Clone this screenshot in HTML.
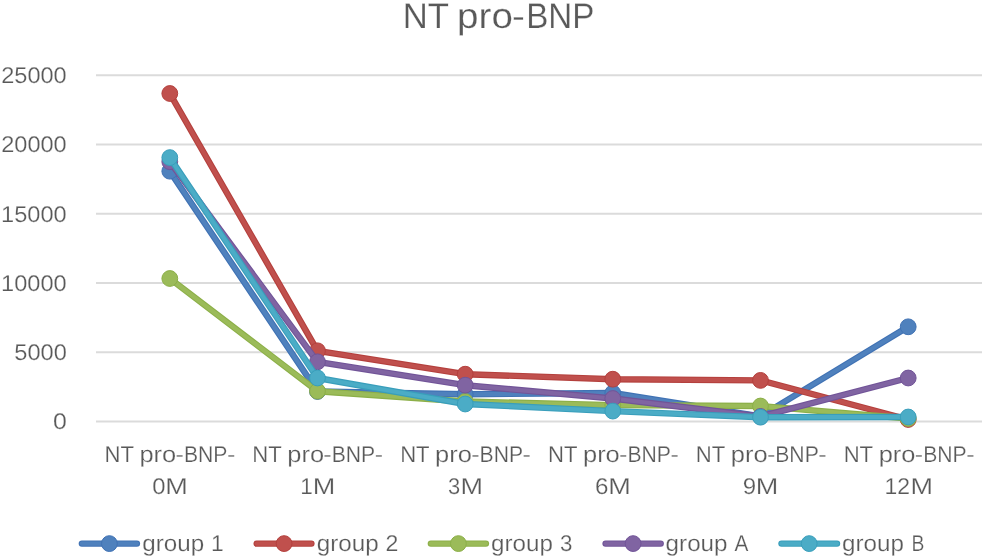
<!DOCTYPE html>
<html><head><meta charset="utf-8"><title>NT pro-BNP</title>
<style>html,body{margin:0;padding:0;background:#fff}svg{display:block}text{font-family:"Liberation Sans",sans-serif;fill:#595959;text-rendering:geometricPrecision;stroke:#fff;stroke-width:0.22px}</style></head><body>
<svg width="985" height="559" viewBox="0 0 985 559">
<rect width="985" height="559" fill="#fff"/>
<line x1="96.0" x2="982.0" y1="421.40" y2="421.40" stroke="#DBDBDB" stroke-width="2"/>
<line x1="96.0" x2="982.0" y1="352.18" y2="352.18" stroke="#DBDBDB" stroke-width="2"/>
<line x1="96.0" x2="982.0" y1="282.96" y2="282.96" stroke="#DBDBDB" stroke-width="2"/>
<line x1="96.0" x2="982.0" y1="213.74" y2="213.74" stroke="#DBDBDB" stroke-width="2"/>
<line x1="96.0" x2="982.0" y1="144.52" y2="144.52" stroke="#DBDBDB" stroke-width="2"/>
<line x1="96.0" x2="982.0" y1="75.30" y2="75.30" stroke="#DBDBDB" stroke-width="2"/>
<text font-size="35.6"><tspan x="402.79" y="28" textLength="45.67" lengthAdjust="spacingAndGlyphs">NT</tspan> <tspan x="457.13" y="28" textLength="55.81" lengthAdjust="spacingAndGlyphs">pro</tspan><tspan x="511.98" y="28" textLength="12.86" lengthAdjust="spacingAndGlyphs">-</tspan><tspan x="526.18" y="28" textLength="68.17" lengthAdjust="spacingAndGlyphs">BNP</tspan></text>
<text font-size="22.8"><tspan x="52.99" y="429" textLength="13.85" lengthAdjust="spacingAndGlyphs">0</tspan></text>
<text font-size="22.8"><tspan x="14.27" y="360" textLength="52.55" lengthAdjust="spacingAndGlyphs">5000</tspan></text>
<text font-size="22.8"><tspan x="1.10" y="291" textLength="65.65" lengthAdjust="spacingAndGlyphs">10000</tspan></text>
<text font-size="22.8"><tspan x="1.10" y="222" textLength="65.65" lengthAdjust="spacingAndGlyphs">15000</tspan></text>
<text font-size="22.8"><tspan x="1.20" y="152" textLength="65.55" lengthAdjust="spacingAndGlyphs">20000</tspan></text>
<text font-size="22.8"><tspan x="1.20" y="83" textLength="65.55" lengthAdjust="spacingAndGlyphs">25000</tspan></text>
<text font-size="22.8"><tspan x="104.44" y="462" textLength="29.07" lengthAdjust="spacingAndGlyphs">NT</tspan> <tspan x="139.45" y="462" textLength="36.77" lengthAdjust="spacingAndGlyphs">pro</tspan><tspan x="175.54" y="462" textLength="8.35" lengthAdjust="spacingAndGlyphs">-</tspan><tspan x="183.89" y="462" textLength="43.49" lengthAdjust="spacingAndGlyphs">BNP</tspan><tspan x="226.94" y="462" textLength="8.35" lengthAdjust="spacingAndGlyphs">-</tspan><tspan x="152.17" y="494" textLength="13.27" lengthAdjust="spacingAndGlyphs">0</tspan><tspan x="165.21" y="494" textLength="22.55" lengthAdjust="spacingAndGlyphs">M</tspan></text>
<text font-size="22.8"><tspan x="252.29" y="462" textLength="29.07" lengthAdjust="spacingAndGlyphs">NT</tspan> <tspan x="287.30" y="462" textLength="36.77" lengthAdjust="spacingAndGlyphs">pro</tspan><tspan x="323.39" y="462" textLength="8.35" lengthAdjust="spacingAndGlyphs">-</tspan><tspan x="331.74" y="462" textLength="43.49" lengthAdjust="spacingAndGlyphs">BNP</tspan><tspan x="374.79" y="462" textLength="8.35" lengthAdjust="spacingAndGlyphs">-</tspan><tspan x="300.18" y="494" textLength="12.54" lengthAdjust="spacingAndGlyphs">1</tspan><tspan x="312.88" y="494" textLength="22.55" lengthAdjust="spacingAndGlyphs">M</tspan></text>
<text font-size="22.8"><tspan x="400.13" y="462" textLength="29.07" lengthAdjust="spacingAndGlyphs">NT</tspan> <tspan x="435.14" y="462" textLength="36.77" lengthAdjust="spacingAndGlyphs">pro</tspan><tspan x="471.24" y="462" textLength="8.35" lengthAdjust="spacingAndGlyphs">-</tspan><tspan x="479.59" y="462" textLength="43.49" lengthAdjust="spacingAndGlyphs">BNP</tspan><tspan x="522.64" y="462" textLength="8.35" lengthAdjust="spacingAndGlyphs">-</tspan><tspan x="447.93" y="494" textLength="12.19" lengthAdjust="spacingAndGlyphs">3</tspan><tspan x="460.54" y="494" textLength="22.55" lengthAdjust="spacingAndGlyphs">M</tspan></text>
<text font-size="22.8"><tspan x="547.98" y="462" textLength="29.07" lengthAdjust="spacingAndGlyphs">NT</tspan> <tspan x="582.99" y="462" textLength="36.77" lengthAdjust="spacingAndGlyphs">pro</tspan><tspan x="619.08" y="462" textLength="8.35" lengthAdjust="spacingAndGlyphs">-</tspan><tspan x="627.43" y="462" textLength="43.49" lengthAdjust="spacingAndGlyphs">BNP</tspan><tspan x="670.48" y="462" textLength="8.35" lengthAdjust="spacingAndGlyphs">-</tspan><tspan x="595.06" y="494" textLength="13.45" lengthAdjust="spacingAndGlyphs">6</tspan><tspan x="608.21" y="494" textLength="22.55" lengthAdjust="spacingAndGlyphs">M</tspan></text>
<text font-size="22.8"><tspan x="695.83" y="462" textLength="29.07" lengthAdjust="spacingAndGlyphs">NT</tspan> <tspan x="730.84" y="462" textLength="36.77" lengthAdjust="spacingAndGlyphs">pro</tspan><tspan x="766.93" y="462" textLength="8.35" lengthAdjust="spacingAndGlyphs">-</tspan><tspan x="775.28" y="462" textLength="43.49" lengthAdjust="spacingAndGlyphs">BNP</tspan><tspan x="818.33" y="462" textLength="8.35" lengthAdjust="spacingAndGlyphs">-</tspan><tspan x="742.70" y="494" textLength="13.42" lengthAdjust="spacingAndGlyphs">9</tspan><tspan x="755.88" y="494" textLength="22.55" lengthAdjust="spacingAndGlyphs">M</tspan></text>
<text font-size="22.8"><tspan x="843.67" y="462" textLength="29.07" lengthAdjust="spacingAndGlyphs">NT</tspan> <tspan x="878.68" y="462" textLength="36.77" lengthAdjust="spacingAndGlyphs">pro</tspan><tspan x="914.78" y="462" textLength="8.35" lengthAdjust="spacingAndGlyphs">-</tspan><tspan x="923.13" y="462" textLength="43.49" lengthAdjust="spacingAndGlyphs">BNP</tspan><tspan x="966.18" y="462" textLength="8.35" lengthAdjust="spacingAndGlyphs">-</tspan><tspan x="884.52" y="494" textLength="25.54" lengthAdjust="spacingAndGlyphs">12</tspan><tspan x="910.44" y="494" textLength="22.55" lengthAdjust="spacingAndGlyphs">M</tspan></text>
<text font-size="22.8"><tspan x="142.24" y="551" textLength="61.92" lengthAdjust="spacingAndGlyphs">group</tspan> <tspan x="210.97" y="551" textLength="12.67" lengthAdjust="spacingAndGlyphs">1</tspan></text>
<text font-size="22.8"><tspan x="316.84" y="551" textLength="61.92" lengthAdjust="spacingAndGlyphs">group</tspan> <tspan x="385.42" y="551" textLength="12.86" lengthAdjust="spacingAndGlyphs">2</tspan></text>
<text font-size="22.8"><tspan x="491.04" y="551" textLength="61.92" lengthAdjust="spacingAndGlyphs">group</tspan> <tspan x="559.94" y="551" textLength="12.43" lengthAdjust="spacingAndGlyphs">3</tspan></text>
<text font-size="22.8"><tspan x="665.64" y="551" textLength="61.92" lengthAdjust="spacingAndGlyphs">group</tspan> <tspan x="734.46" y="551" textLength="13.93" lengthAdjust="spacingAndGlyphs">A</tspan></text>
<text font-size="22.8"><tspan x="841.94" y="551" textLength="61.92" lengthAdjust="spacingAndGlyphs">group</tspan> <tspan x="911.41" y="551" textLength="12.88" lengthAdjust="spacingAndGlyphs">B</tspan></text>
<polyline points="169.8,171.2 317.5,391.5 465.2,394.3 612.8,393.0 760.5,416.3 908.2,326.8" fill="none" stroke="#4072B4" stroke-width="6.4" stroke-linecap="round" stroke-linejoin="round"/>
<polyline points="169.8,171.2 317.5,391.5 465.2,394.3 612.8,393.0 760.5,416.3 908.2,326.8" fill="none" stroke="#4F81BD" stroke-width="4.2" stroke-linecap="round" stroke-linejoin="round"/>
<circle cx="169.8" cy="171.2" r="7.9" fill="#4F81BD" stroke="#4072B4" stroke-width="1"/>
<circle cx="317.5" cy="391.5" r="7.9" fill="#4F81BD" stroke="#4072B4" stroke-width="1"/>
<circle cx="465.2" cy="394.3" r="7.9" fill="#4F81BD" stroke="#4072B4" stroke-width="1"/>
<circle cx="612.8" cy="393.0" r="7.9" fill="#4F81BD" stroke="#4072B4" stroke-width="1"/>
<circle cx="760.5" cy="416.3" r="7.9" fill="#4F81BD" stroke="#4072B4" stroke-width="1"/>
<circle cx="908.2" cy="326.8" r="7.9" fill="#4F81BD" stroke="#4072B4" stroke-width="1"/>
<polyline points="169.8,93.5 317.5,350.8 465.2,374.2 612.8,379.2 760.5,380.4 908.2,419.5" fill="none" stroke="#B4403D" stroke-width="6.4" stroke-linecap="round" stroke-linejoin="round"/>
<polyline points="169.8,93.5 317.5,350.8 465.2,374.2 612.8,379.2 760.5,380.4 908.2,419.5" fill="none" stroke="#C0504D" stroke-width="4.2" stroke-linecap="round" stroke-linejoin="round"/>
<circle cx="169.8" cy="93.5" r="7.9" fill="#C0504D" stroke="#B4403D" stroke-width="1"/>
<circle cx="317.5" cy="350.8" r="7.9" fill="#C0504D" stroke="#B4403D" stroke-width="1"/>
<circle cx="465.2" cy="374.2" r="7.9" fill="#C0504D" stroke="#B4403D" stroke-width="1"/>
<circle cx="612.8" cy="379.2" r="7.9" fill="#C0504D" stroke="#B4403D" stroke-width="1"/>
<circle cx="760.5" cy="380.4" r="7.9" fill="#C0504D" stroke="#B4403D" stroke-width="1"/>
<circle cx="908.2" cy="419.5" r="7.9" fill="#C0504D" stroke="#B4403D" stroke-width="1"/>
<polyline points="169.8,278.5 317.5,391.2 465.2,401.5 612.8,405.1 760.5,406.0 908.2,418.5" fill="none" stroke="#8CAF48" stroke-width="6.4" stroke-linecap="round" stroke-linejoin="round"/>
<polyline points="169.8,278.5 317.5,391.2 465.2,401.5 612.8,405.1 760.5,406.0 908.2,418.5" fill="none" stroke="#9BBB59" stroke-width="4.2" stroke-linecap="round" stroke-linejoin="round"/>
<circle cx="169.8" cy="278.5" r="7.9" fill="#9BBB59" stroke="#8CAF48" stroke-width="1"/>
<circle cx="317.5" cy="391.2" r="7.9" fill="#9BBB59" stroke="#8CAF48" stroke-width="1"/>
<circle cx="465.2" cy="401.5" r="7.9" fill="#9BBB59" stroke="#8CAF48" stroke-width="1"/>
<circle cx="612.8" cy="405.1" r="7.9" fill="#9BBB59" stroke="#8CAF48" stroke-width="1"/>
<circle cx="760.5" cy="406.0" r="7.9" fill="#9BBB59" stroke="#8CAF48" stroke-width="1"/>
<circle cx="908.2" cy="418.5" r="7.9" fill="#9BBB59" stroke="#8CAF48" stroke-width="1"/>
<polyline points="169.8,161.7 317.5,361.8 465.2,385.2 612.8,398.5 760.5,416.5 908.2,378.0" fill="none" stroke="#715498" stroke-width="6.4" stroke-linecap="round" stroke-linejoin="round"/>
<polyline points="169.8,161.7 317.5,361.8 465.2,385.2 612.8,398.5 760.5,416.5 908.2,378.0" fill="none" stroke="#8064A2" stroke-width="4.2" stroke-linecap="round" stroke-linejoin="round"/>
<circle cx="169.8" cy="161.7" r="7.9" fill="#8064A2" stroke="#715498" stroke-width="1"/>
<circle cx="317.5" cy="361.8" r="7.9" fill="#8064A2" stroke="#715498" stroke-width="1"/>
<circle cx="465.2" cy="385.2" r="7.9" fill="#8064A2" stroke="#715498" stroke-width="1"/>
<circle cx="612.8" cy="398.5" r="7.9" fill="#8064A2" stroke="#715498" stroke-width="1"/>
<circle cx="760.5" cy="416.5" r="7.9" fill="#8064A2" stroke="#715498" stroke-width="1"/>
<circle cx="908.2" cy="378.0" r="7.9" fill="#8064A2" stroke="#715498" stroke-width="1"/>
<polyline points="169.8,157.6 317.5,378.0 465.2,404.0 612.8,411.1 760.5,417.2 908.2,417.0" fill="none" stroke="#399EBB" stroke-width="6.4" stroke-linecap="round" stroke-linejoin="round"/>
<polyline points="169.8,157.6 317.5,378.0 465.2,404.0 612.8,411.1 760.5,417.2 908.2,417.0" fill="none" stroke="#4BACC6" stroke-width="4.2" stroke-linecap="round" stroke-linejoin="round"/>
<circle cx="169.8" cy="157.6" r="7.9" fill="#4BACC6" stroke="#399EBB" stroke-width="1"/>
<circle cx="317.5" cy="378.0" r="7.9" fill="#4BACC6" stroke="#399EBB" stroke-width="1"/>
<circle cx="465.2" cy="404.0" r="7.9" fill="#4BACC6" stroke="#399EBB" stroke-width="1"/>
<circle cx="612.8" cy="411.1" r="7.9" fill="#4BACC6" stroke="#399EBB" stroke-width="1"/>
<circle cx="760.5" cy="417.2" r="7.9" fill="#4BACC6" stroke="#399EBB" stroke-width="1"/>
<circle cx="908.2" cy="417.0" r="7.9" fill="#4BACC6" stroke="#399EBB" stroke-width="1"/>
<line x1="81.9" x2="136.9" y1="543.6" y2="543.6" stroke="#4072B4" stroke-width="6.4" stroke-linecap="round"/>
<line x1="81.9" x2="136.9" y1="543.6" y2="543.6" stroke="#4F81BD" stroke-width="4.2" stroke-linecap="round"/>
<circle cx="109.4" cy="543.6" r="7.9" fill="#4F81BD" stroke="#4072B4" stroke-width="1"/>
<line x1="256.7" x2="311.4" y1="543.6" y2="543.6" stroke="#B4403D" stroke-width="6.4" stroke-linecap="round"/>
<line x1="256.7" x2="311.4" y1="543.6" y2="543.6" stroke="#C0504D" stroke-width="4.2" stroke-linecap="round"/>
<circle cx="284.1" cy="543.6" r="7.9" fill="#C0504D" stroke="#B4403D" stroke-width="1"/>
<line x1="430.9" x2="485.9" y1="543.6" y2="543.6" stroke="#8CAF48" stroke-width="6.4" stroke-linecap="round"/>
<line x1="430.9" x2="485.9" y1="543.6" y2="543.6" stroke="#9BBB59" stroke-width="4.2" stroke-linecap="round"/>
<circle cx="458.4" cy="543.6" r="7.9" fill="#9BBB59" stroke="#8CAF48" stroke-width="1"/>
<line x1="605.6" x2="660.7" y1="543.6" y2="543.6" stroke="#715498" stroke-width="6.4" stroke-linecap="round"/>
<line x1="605.6" x2="660.7" y1="543.6" y2="543.6" stroke="#8064A2" stroke-width="4.2" stroke-linecap="round"/>
<circle cx="633.1" cy="543.6" r="7.9" fill="#8064A2" stroke="#715498" stroke-width="1"/>
<line x1="781.5" x2="837.0" y1="543.6" y2="543.6" stroke="#399EBB" stroke-width="6.4" stroke-linecap="round"/>
<line x1="781.5" x2="837.0" y1="543.6" y2="543.6" stroke="#4BACC6" stroke-width="4.2" stroke-linecap="round"/>
<circle cx="809.2" cy="543.6" r="7.9" fill="#4BACC6" stroke="#399EBB" stroke-width="1"/>
</svg></body></html>
